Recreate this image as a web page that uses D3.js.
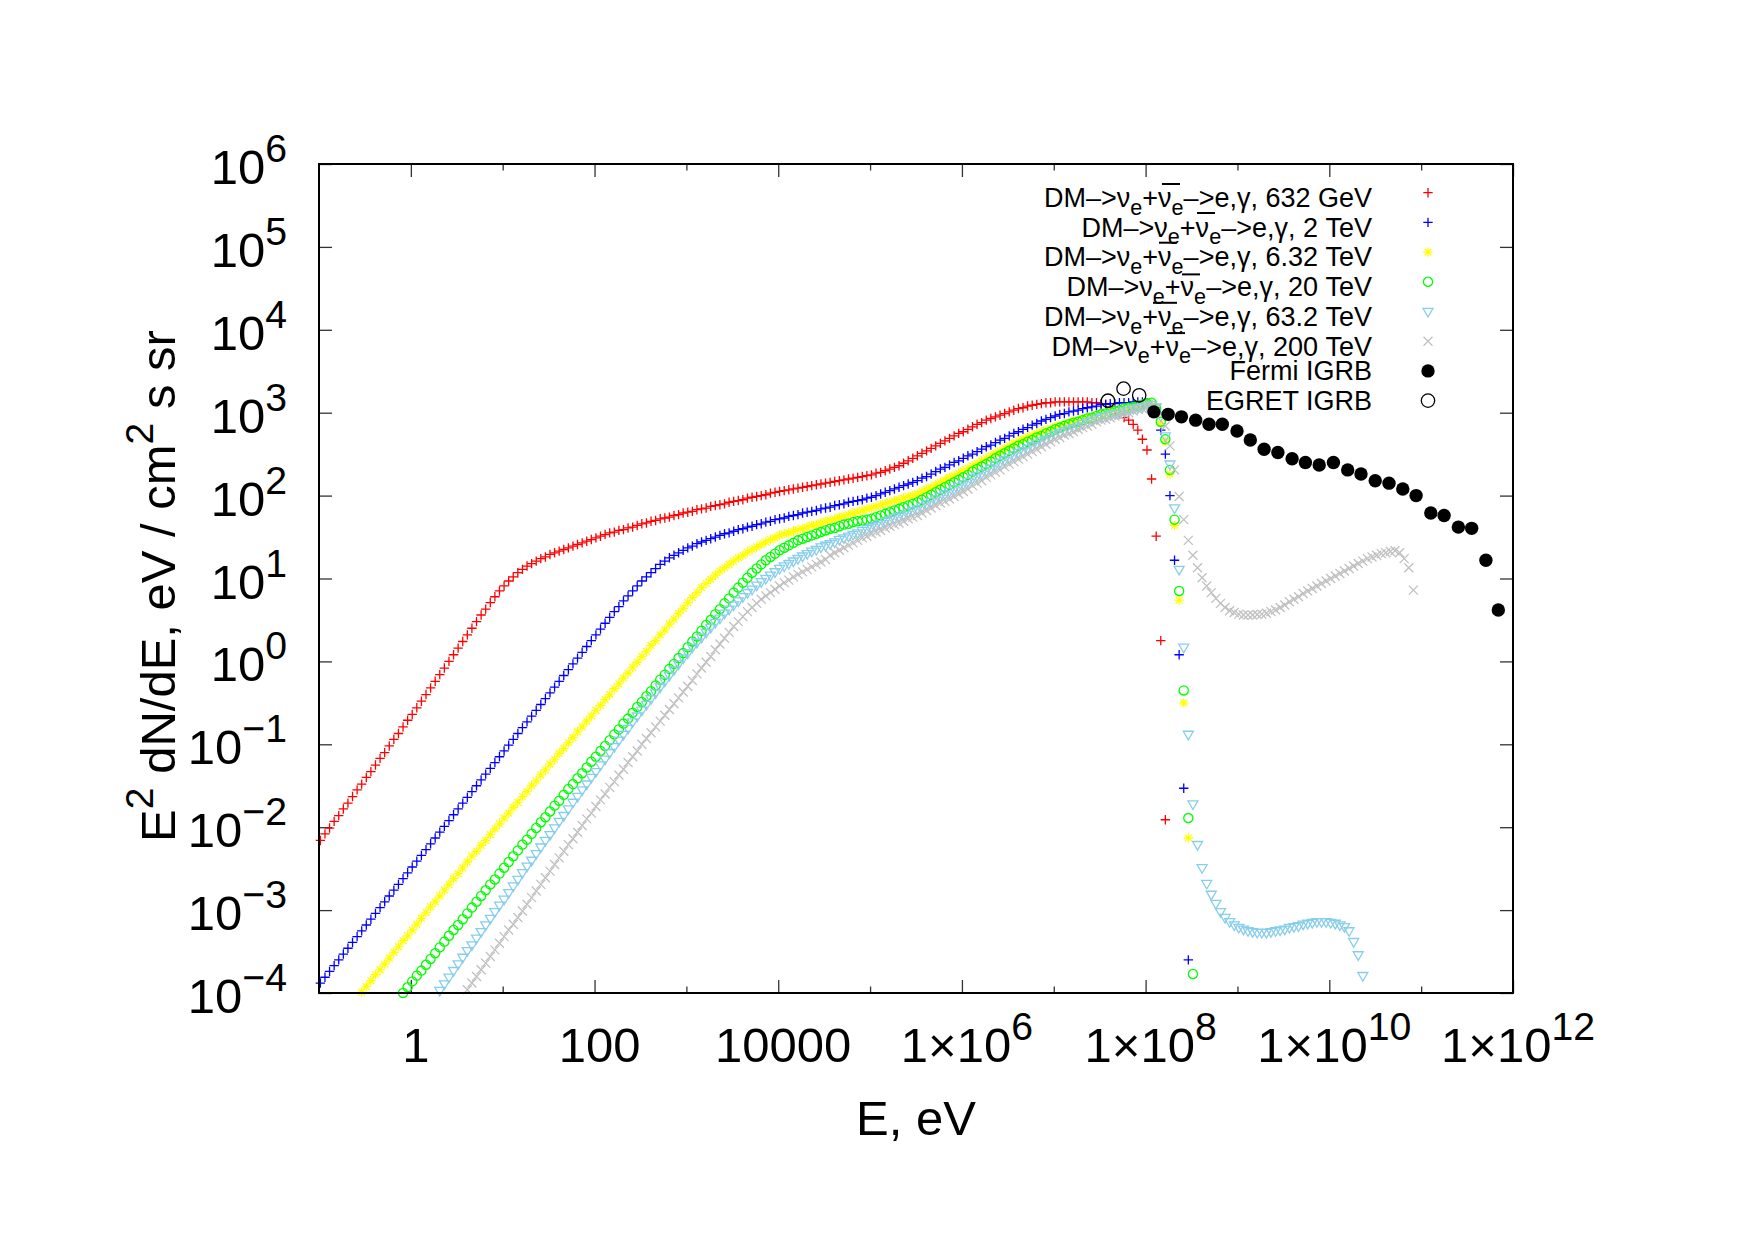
<!DOCTYPE html>
<html>
<head>
<meta charset="utf-8">
<script src="https://cdn.jsdelivr.net/npm/d3@7"></script>
<style>
  body { margin: 0; background: #fff; }
  svg { display: block; }
  text { font-family: "Liberation Sans", Arial, Helvetica, sans-serif; fill: #000; white-space: pre; }
</style>
</head>
<body>
<svg width="1755" height="1240"></svg>
<script>
// energy grid of the spectra, log10(E / eV)
const energyExp = [
  -0.985,-0.935,-0.885,-0.835,-0.785,-0.735,-0.685,-0.635,-0.585,-0.535,-0.485,-0.435,-0.385,-0.335,-0.285,-0.235,-0.185,-0.135,-0.085,-0.035,
  0.015,0.065,0.115,0.165,0.215,0.265,0.315,0.365,0.415,0.465,0.515,0.565,0.615,0.665,0.715,0.765,0.815,0.865,0.915,0.965,
  1.015,1.065,1.115,1.165,1.215,1.265,1.315,1.365,1.415,1.465,1.515,1.565,1.615,1.665,1.715,1.765,1.815,1.865,1.915,1.965,
  2.015,2.065,2.115,2.165,2.215,2.265,2.315,2.365,2.415,2.465,2.515,2.565,2.615,2.665,2.715,2.765,2.815,2.865,2.915,2.965,
  3.015,3.065,3.115,3.165,3.215,3.265,3.315,3.365,3.415,3.465,3.515,3.565,3.615,3.665,3.715,3.765,3.815,3.865,3.915,3.965,
  4.015,4.065,4.115,4.165,4.215,4.265,4.315,4.365,4.415,4.465,4.515,4.565,4.615,4.665,4.715,4.765,4.815,4.865,4.915,4.965,
  5.015,5.065,5.115,5.165,5.215,5.265,5.315,5.365,5.415,5.465,5.515,5.565,5.615,5.665,5.715,5.765,5.815,5.865,5.915,5.965,
  6.015,6.065,6.115,6.165,6.215,6.265,6.315,6.365,6.415,6.465,6.515,6.565,6.615,6.665,6.715,6.765,6.815,6.865,6.915,6.965,
  7.015,7.065,7.115,7.165,7.215,7.265,7.315,7.365,7.415,7.465,7.515,7.565,7.615,7.665,7.715,7.765,7.815,7.865,7.915,7.965,
  8.015,8.065,8.115,8.165,8.215,8.265,8.315,8.365,8.415,8.465,8.515,8.565,8.615,8.665,8.715,8.765,8.815,8.865,8.915,8.965,
  9.015,9.065,9.115,9.165,9.215,9.265,9.315,9.365,9.415,9.465,9.515,9.565,9.615,9.665,9.715,9.765,9.815,9.865,9.915,9.965,
  10.015,10.065,10.115,10.165,10.215,10.265,10.315,10.365,10.415,10.465,10.515,10.565,10.615,10.665,10.715,10.765,10.815,10.865,10.915,10.965
]

// log10(E^2 dN/dE) for each DM mass, starting at grid index *From
const dm632From = 0
const dm632 = [
  -2.16,-2.08,-2.01,-1.93,-1.86,-1.78,-1.71,-1.63,-1.55,-1.48,
  -1.40,-1.33,-1.25,-1.17,-1.10,-1.02,-0.94,-0.87,-0.79,-0.71,
  -0.64,-0.56,-0.48,-0.40,-0.32,-0.24,-0.16,-0.08,0.00,0.08,
  0.16,0.24,0.32,0.40,0.48,0.56,0.63,0.71,0.78,0.85,
  0.91,0.97,1.02,1.07,1.11,1.15,1.18,1.21,1.24,1.26,
  1.29,1.31,1.33,1.35,1.37,1.39,1.41,1.43,1.45,1.47,
  1.49,1.51,1.53,1.55,1.56,1.58,1.59,1.61,1.62,1.64,
  1.66,1.67,1.69,1.70,1.72,1.73,1.74,1.76,1.77,1.79,
  1.80,1.81,1.83,1.84,1.85,1.87,1.88,1.89,1.90,1.92,
  1.93,1.94,1.95,1.97,1.98,1.99,2.00,2.01,2.03,2.04,
  2.05,2.06,2.07,2.08,2.09,2.10,2.11,2.12,2.13,2.14,
  2.15,2.16,2.17,2.18,2.19,2.20,2.21,2.22,2.23,2.24,
  2.25,2.27,2.28,2.30,2.32,2.34,2.36,2.39,2.42,2.45,
  2.48,2.51,2.54,2.57,2.60,2.63,2.66,2.69,2.72,2.75,
  2.77,2.80,2.83,2.86,2.88,2.91,2.93,2.95,2.97,2.99,
  3.01,3.03,3.05,3.06,3.08,3.09,3.10,3.11,3.12,3.12,
  3.13,3.13,3.13,3.13,3.13,3.13,3.13,3.13,3.12,3.12,
  3.11,3.10,3.07,3.03,2.98,2.94,2.91,2.86,2.79,2.68,
  2.55,2.20,1.51,0.25,-1.91
]

const dm2From = 0
const dm2 = [
  -3.88,-3.81,-3.74,-3.67,-3.60,-3.53,-3.46,-3.39,-3.32,-3.25,
  -3.18,-3.11,-3.04,-2.97,-2.90,-2.83,-2.76,-2.69,-2.62,-2.55,
  -2.48,-2.41,-2.34,-2.27,-2.20,-2.13,-2.06,-1.99,-1.92,-1.85,
  -1.78,-1.71,-1.64,-1.57,-1.50,-1.43,-1.36,-1.29,-1.22,-1.15,
  -1.08,-1.01,-0.94,-0.87,-0.80,-0.73,-0.66,-0.59,-0.52,-0.45,
  -0.38,-0.31,-0.24,-0.17,-0.10,-0.03,0.04,0.11,0.18,0.25,
  0.32,0.39,0.46,0.53,0.60,0.66,0.73,0.79,0.85,0.91,
  0.97,1.02,1.07,1.12,1.17,1.21,1.25,1.28,1.31,1.34,
  1.37,1.39,1.42,1.44,1.46,1.48,1.50,1.52,1.54,1.55,
  1.57,1.59,1.60,1.62,1.63,1.65,1.66,1.68,1.69,1.71,
  1.72,1.73,1.75,1.76,1.77,1.79,1.80,1.81,1.82,1.84,
  1.85,1.86,1.88,1.89,1.90,1.92,1.93,1.94,1.95,1.97,
  1.98,2.00,2.02,2.04,2.06,2.08,2.10,2.12,2.14,2.16,
  2.18,2.21,2.23,2.26,2.29,2.32,2.34,2.37,2.40,2.42,
  2.45,2.48,2.50,2.53,2.56,2.59,2.61,2.64,2.67,2.69,
  2.72,2.75,2.77,2.80,2.82,2.85,2.87,2.90,2.92,2.94,
  2.96,2.98,2.99,3.01,3.02,3.03,3.05,3.06,3.07,3.08,
  3.10,3.10,3.11,3.11,3.12,3.12,3.12,3.13,3.13,3.13,
  3.12,3.10,3.02,2.79,2.50,2.00,1.22,0.08,-1.53,-3.60
]

const dm632tFrom = 9
const dm632t = [
  -3.99,
  -3.92,-3.85,-3.78,-3.72,-3.65,-3.58,-3.51,-3.44,-3.37,-3.31,
  -3.24,-3.17,-3.10,-3.03,-2.96,-2.90,-2.83,-2.76,-2.69,-2.62,
  -2.56,-2.49,-2.42,-2.35,-2.29,-2.22,-2.16,-2.09,-2.02,-1.96,
  -1.89,-1.83,-1.76,-1.70,-1.63,-1.57,-1.50,-1.44,-1.37,-1.31,
  -1.24,-1.18,-1.11,-1.05,-0.98,-0.92,-0.85,-0.79,-0.72,-0.66,
  -0.59,-0.53,-0.46,-0.40,-0.33,-0.27,-0.20,-0.14,-0.07,-0.01,
  0.06,0.12,0.19,0.25,0.32,0.38,0.45,0.51,0.58,0.64,
  0.71,0.77,0.83,0.89,0.94,0.99,1.04,1.09,1.13,1.17,
  1.21,1.25,1.28,1.32,1.35,1.38,1.41,1.44,1.47,1.49,
  1.52,1.54,1.55,1.57,1.59,1.60,1.62,1.64,1.65,1.67,
  1.69,1.70,1.72,1.74,1.75,1.77,1.79,1.80,1.82,1.84,
  1.85,1.87,1.89,1.90,1.92,1.94,1.95,1.97,1.99,2.00,
  2.02,2.05,2.08,2.10,2.13,2.16,2.19,2.22,2.24,2.27,
  2.30,2.33,2.36,2.39,2.42,2.45,2.48,2.51,2.54,2.57,
  2.60,2.63,2.66,2.68,2.71,2.73,2.75,2.77,2.79,2.81,
  2.83,2.85,2.86,2.88,2.90,2.91,2.93,2.94,2.96,2.97,
  2.99,3.00,3.02,3.03,3.04,3.05,3.06,3.07,3.08,3.10,
  3.11,3.11,3.04,2.87,2.65,2.26,1.64,0.74,-0.50,-2.13
]

const dm20From = 18
const dm20 = [
  -4.00,-3.93,
  -3.86,-3.79,-3.73,-3.66,-3.59,-3.52,-3.45,-3.38,-3.31,-3.24,
  -3.18,-3.11,-3.04,-2.97,-2.90,-2.83,-2.76,-2.69,-2.63,-2.56,
  -2.49,-2.42,-2.35,-2.28,-2.21,-2.15,-2.08,-2.01,-1.94,-1.88,
  -1.81,-1.74,-1.68,-1.61,-1.54,-1.48,-1.41,-1.35,-1.28,-1.21,
  -1.15,-1.08,-1.02,-0.95,-0.88,-0.82,-0.75,-0.69,-0.62,-0.55,
  -0.49,-0.42,-0.36,-0.29,-0.22,-0.16,-0.09,-0.03,0.04,0.10,
  0.17,0.24,0.30,0.37,0.44,0.50,0.57,0.63,0.70,0.76,
  0.83,0.89,0.95,1.01,1.07,1.12,1.17,1.22,1.26,1.30,
  1.34,1.37,1.40,1.43,1.46,1.48,1.50,1.52,1.54,1.56,
  1.58,1.60,1.61,1.63,1.65,1.66,1.68,1.69,1.70,1.71,
  1.72,1.74,1.76,1.78,1.80,1.82,1.84,1.86,1.88,1.90,
  1.92,1.95,1.98,2.01,2.04,2.07,2.10,2.13,2.16,2.19,
  2.22,2.25,2.29,2.32,2.35,2.38,2.41,2.45,2.48,2.51,
  2.54,2.57,2.60,2.62,2.65,2.67,2.70,2.72,2.75,2.77,
  2.80,2.82,2.84,2.86,2.88,2.89,2.91,2.93,2.94,2.96,
  2.98,2.99,3.01,3.02,3.03,3.05,3.06,3.07,3.08,3.10,
  3.11,3.12,3.05,2.89,2.68,2.31,1.71,0.85,-0.35,-1.89,
  -3.77
]

const dm63From = 26
const dm63 = [
  -3.97,-3.89,-3.81,-3.73,
  -3.65,-3.57,-3.49,-3.42,-3.34,-3.26,-3.18,-3.10,-3.02,-2.94,
  -2.87,-2.79,-2.71,-2.63,-2.55,-2.47,-2.40,-2.32,-2.24,-2.16,
  -2.09,-2.01,-1.93,-1.86,-1.78,-1.70,-1.63,-1.55,-1.48,-1.40,
  -1.33,-1.25,-1.18,-1.10,-1.03,-0.95,-0.88,-0.81,-0.73,-0.66,
  -0.59,-0.52,-0.45,-0.38,-0.31,-0.24,-0.17,-0.10,-0.03,0.04,
  0.10,0.17,0.23,0.29,0.35,0.41,0.47,0.52,0.58,0.63,
  0.68,0.73,0.78,0.83,0.87,0.92,0.96,1.00,1.04,1.08,
  1.12,1.15,1.18,1.21,1.24,1.27,1.30,1.33,1.35,1.38,
  1.40,1.42,1.44,1.47,1.49,1.51,1.53,1.55,1.58,1.60,
  1.62,1.64,1.66,1.69,1.71,1.73,1.75,1.77,1.80,1.82,
  1.84,1.87,1.90,1.93,1.96,1.99,2.02,2.05,2.08,2.11,
  2.14,2.17,2.21,2.24,2.27,2.30,2.33,2.37,2.40,2.43,
  2.46,2.49,2.52,2.54,2.57,2.60,2.63,2.66,2.68,2.71,
  2.74,2.76,2.78,2.80,2.82,2.84,2.87,2.89,2.91,2.93,
  2.95,2.96,2.98,2.99,3.00,3.02,3.03,3.05,3.06,3.07,
  3.09,3.10,3.07,2.96,2.72,2.38,1.85,1.11,0.17,-0.88,
  -1.72,-2.21,-2.49,-2.68,-2.81,-2.92,-3.02,-3.09,-3.14,-3.18,
  -3.21,-3.23,-3.25,-3.26,-3.27,-3.27,-3.27,-3.26,-3.25,-3.24,
  -3.23,-3.21,-3.20,-3.19,-3.17,-3.16,-3.15,-3.14,-3.14,-3.14,
  -3.15,-3.16,-3.18,-3.20,-3.25,-3.38,-3.54,-3.79
]

const dm200From = 32
const dm200 = [
  -3.96,-3.88,-3.80,-3.72,-3.64,-3.56,-3.48,-3.40,
  -3.32,-3.24,-3.17,-3.09,-3.01,-2.93,-2.85,-2.77,-2.69,-2.61,
  -2.53,-2.45,-2.37,-2.29,-2.21,-2.14,-2.06,-1.98,-1.90,-1.83,
  -1.75,-1.67,-1.60,-1.52,-1.45,-1.37,-1.30,-1.22,-1.15,-1.08,
  -1.00,-0.93,-0.86,-0.79,-0.72,-0.65,-0.58,-0.51,-0.44,-0.37,
  -0.30,-0.23,-0.15,-0.08,-0.01,0.06,0.14,0.21,0.28,0.35,
  0.42,0.48,0.54,0.60,0.65,0.70,0.75,0.79,0.83,0.87,
  0.91,0.95,0.98,1.02,1.05,1.08,1.11,1.14,1.17,1.20,
  1.23,1.28,1.31,1.34,1.37,1.40,1.43,1.46,1.49,1.51,
  1.54,1.56,1.58,1.61,1.63,1.65,1.67,1.69,1.72,1.74,
  1.76,1.79,1.82,1.85,1.88,1.91,1.93,1.96,1.99,2.02,
  2.05,2.08,2.12,2.15,2.18,2.22,2.25,2.28,2.31,2.35,
  2.38,2.41,2.44,2.47,2.50,2.53,2.56,2.59,2.62,2.65,
  2.68,2.70,2.73,2.75,2.77,2.80,2.82,2.84,2.86,2.89,
  2.91,2.92,2.94,2.96,2.97,2.99,3.00,3.02,3.04,3.05,
  3.07,3.08,3.06,2.98,2.84,2.60,2.31,1.99,1.71,1.46,
  1.28,1.13,1.01,0.91,0.83,0.76,0.70,0.65,0.61,0.59,
  0.57,0.56,0.56,0.56,0.565,0.57,0.58,0.60,0.62,0.65,
  0.68,0.72,0.75,0.78,0.82,0.85,0.88,0.91,0.94,0.97,
  1.00,1.03,1.06,1.09,1.12,1.15,1.18,1.21,1.24,1.26,
  1.28,1.30,1.31,1.325,1.335,1.31,1.24,1.13,0.86
]

// Fermi and EGRET isotropic gamma-ray background, log10 values
const fermiExp = [8.09,8.245,8.39,8.545,8.69,8.835,8.995,9.14,9.29,9.44,9.595,9.74,9.89,10.045,10.2,10.345,10.5,10.65,10.8,10.945,11.105,11.25,11.405,11.55,11.705,11.84]
const fermiVal = [3.01,2.98,2.95,2.91,2.86,2.86,2.78,2.67,2.56,2.52,2.445,2.40,2.37,2.40,2.31,2.26,2.18,2.15,2.08,2.00,1.79,1.76,1.62,1.605,1.22,0.62]
const egretExp = [7.59,7.76,7.93]
const egretVal = [3.145,3.29,3.21]

// axis ticks and labels
const xMajor = [1e0, 1e2, 1e4, 1e6, 1e8, 1e10, 1e12]
const xMinor = [1e1, 1e3, 1e5, 1e7, 1e9, 1e11]
const xTickBase = ['1', '100', '10000', '1×10', '1×10', '1×10', '1×10']
const xTickSup = [null, null, null, '6', '8', '10', '12']
const yTicks = [1e-4, 1e-3, 1e-2, 1e-1, 1e0, 1e1, 1e2, 1e3, 1e4, 1e5, 1e6]
const yTickSup = ['−4', '−3', '−2', '−1', '0', '1', '2', '3', '4', '5', '6']

const legendMass = ['632 GeV', '2 TeV', '6.32 TeV', '20 TeV', '63.2 TeV', '200 TeV']

const svg = d3.select('svg')
const width = +svg.attr('width')
const height = +svg.attr('height')
const margin = { top: 164, right: 242, bottom: 247, left: 319 }
const innerWidth = width - margin.left - margin.right
const innerHeight = height - margin.top - margin.bottom

svg.append('rect').attr('width', width).attr('height', height).attr('fill', '#fff')

const xScale = d3.scaleLog().domain([1e-1, 1e12]).range([0, innerWidth])
const yScale = d3.scaleLog().domain([1e-4, 1e6]).range([innerHeight, 0])

const g = svg.append('g')
  .attr('transform', `translate(${margin.left},${margin.top})`)

const tidy = sel => {
  sel.select('.domain').remove()
  sel.selectAll('.tick text').remove()
  sel.selectAll('.tick line').attr('stroke', '#333').attr('stroke-width', 1.3)
}

g.append('g').attr('transform', `translate(0,${innerHeight})`)
  .call(d3.axisBottom(xScale).tickValues(xMajor).tickSize(-13)).call(tidy)
g.append('g').attr('transform', `translate(0,${innerHeight})`)
  .call(d3.axisBottom(xScale).tickValues(xMinor).tickSize(-6.5)).call(tidy)
g.append('g')
  .call(d3.axisTop(xScale).tickValues(xMajor).tickSize(-13)).call(tidy)
g.append('g')
  .call(d3.axisTop(xScale).tickValues(xMinor).tickSize(-6.5)).call(tidy)
g.append('g')
  .call(d3.axisLeft(yScale).tickValues(yTicks).tickSize(-13)).call(tidy)
g.append('g').attr('transform', `translate(${innerWidth},0)`)
  .call(d3.axisRight(yScale).tickValues(yTicks).tickSize(-13)).call(tidy)

// text made of pieces (super/subscripts), each piece its own <text>
const richText = (parent, x, y, parts, anchor, size) => {
  const grp = parent.append('g').attr('transform', `translate(${x},${y})`)
  const nodes = parts.map(p => grp.append('text')
    .attr('font-size', p.size || size)
    .attr('y', p.dy || 0)
    .text(p.t))
  const widths = nodes.map(n => n.node().getComputedTextLength())
  const total = d3.sum(widths)
  let cx = anchor === 'end' ? -total : anchor === 'middle' ? -total / 2 : 0
  nodes.forEach((n, k) => { n.attr('x', cx); cx += widths[k] })
  return grp
}

const tickFont = 49
const supParts = (base, sup) => sup === null
  ? [{ t: base }]
  : [{ t: base }, { t: sup, size: tickFont * 0.8, dy: -22 }]

xMajor.forEach((d, i) => {
  richText(g, xScale(d) + 5, innerHeight + 69, supParts(xTickBase[i], xTickSup[i]), 'middle', tickFont)
})
yTicks.forEach((d, i) => {
  richText(g, -32, yScale(d) + 20, supParts('10', yTickSup[i]), 'end', tickFont)
})

// axis titles
richText(svg, margin.left + innerWidth / 2, 1135, [{ t: 'E, eV' }], 'middle', 49)

richText(svg, 0, 0, [
  { t: 'E' }, { t: '2', size: 39, dy: -22 }, { t: ' dN/dE, eV / cm' },
  { t: '2', size: 39, dy: -22 }, { t: ' s sr' }
], 'middle', 49).attr('transform', 'translate(175,586) rotate(-90)')

// point symbols
const symbolPath = (type, s) => {
  if (type === 'plus') return `M${-s},0H${s}M0,${-s}V${s}`
  if (type === 'cross') return `M${-s},${-s}L${s},${s}M${-s},${s}L${s},${-s}`
  if (type === 'star') {
    const c = s * 0.72
    return `M${-s},0H${s}M0,${-s}V${s}M${-c},${-c}L${c},${c}M${-c},${c}L${c},${-c}`
  }
  if (type === 'tri') return `M${-s},${-s * 0.62}L${s},${-s * 0.62}L0,${s * 1.1}Z`
  return `M${-s},0A${s},${s} 0 1,0 ${s},0A${s},${s} 0 1,0 ${-s},0Z`
}

const series = [
  { from: dm632From, vals: dm632, color: '#ff0000', type: 'plus', size: 4.7 },
  { from: dm2From, vals: dm2, color: '#0000ff', type: 'plus', size: 4.7 },
  { from: dm632tFrom, vals: dm632t, color: '#ffff00', type: 'star', size: 4.7 },
  { from: dm20From, vals: dm20, color: '#00ff00', type: 'circle', size: 4.6 },
  { from: dm63From, vals: dm63, color: '#87ceeb', type: 'tri', size: 5 },
  { from: dm200From, vals: dm200, color: '#c0c0c0', type: 'cross', size: 4.5 }
]

const inRange = p => p.e >= 1e-1 && p.e <= 1e12 && p.f >= 1e-4 && p.f <= 1e6

series.forEach(s => {
  const pts = s.vals.map((v, k) => ({ e: 10 ** energyExp[s.from + k], f: 10 ** v })).filter(inRange)
  g.append('g')
    .attr('fill', 'none')
    .attr('stroke', s.color)
    .attr('stroke-width', 1.3)
    .selectAll('path').data(pts).join('path')
    .attr('transform', d => `translate(${xScale(d.e)},${yScale(d.f)})`)
    .attr('d', symbolPath(s.type, s.size))
})

const fermi = fermiExp.map((e, k) => ({ e: 10 ** e, f: 10 ** fermiVal[k] }))
g.append('g').selectAll('circle').data(fermi).join('circle')
  .attr('cx', d => xScale(d.e))
  .attr('cy', d => yScale(d.f))
  .attr('r', 6.7)
  .attr('fill', '#000')

const egret = egretExp.map((e, k) => ({ e: 10 ** e, f: 10 ** egretVal[k] }))
g.append('g').selectAll('circle').data(egret).join('circle')
  .attr('cx', d => xScale(d.e))
  .attr('cy', d => yScale(d.f))
  .attr('r', 6.7)
  .attr('fill', 'none')
  .attr('stroke', '#000')
  .attr('stroke-width', 1.3)

// legend (top right, inside the frame)
const legendRight = 1372
const legendSample = 1428
const rowY = k => 192.7 + 29.7 * k
const legendFont = 27
const legend = svg.append('g')

legendMass.forEach((m, k) => {
  const sub = { size: legendFont * 0.8, dy: 7.7 }
  richText(legend, legendRight, rowY(k) + 14.3, [
    { t: 'DM–>ν' }, { t: 'e', ...sub }, { t: '+ν' }, { t: 'e', ...sub }, { t: `–>e,γ, ${m}` }
  ], 'end', legendFont)
  const s = series[k]
  legend.append('path')
    .attr('transform', `translate(${legendSample},${rowY(k)})`)
    .attr('d', symbolPath(s.type, s.size))
    .attr('fill', 'none')
    .attr('stroke', s.color)
    .attr('stroke-width', 1.3)
})

;['Fermi IGRB', 'EGRET IGRB'].forEach((name, j) => {
  richText(legend, legendRight, rowY(6 + j) + 9, [{ t: name }], 'end', legendFont)
})
legend.append('circle').attr('cx', legendSample).attr('cy', rowY(6)).attr('r', 6.7).attr('fill', '#000')
legend.append('circle').attr('cx', legendSample).attr('cy', rowY(7)).attr('r', 6.7)
  .attr('fill', 'none').attr('stroke', '#000').attr('stroke-width', 1.3)

// stray bar strokes of the enhanced-text labels, relative to the text end and baseline
const bars = [
  [0, -210, -192, -23], [0, -175, -157, 6], [1, -213, -195, 6],
  [2, -190, -172, 8], [3, -219, -195, 6.7], [4, -205, -187, 7.3]
]
legend.selectAll('line.bar').data(bars).join('line')
  .attr('class', 'bar')
  .attr('x1', d => legendRight + d[1])
  .attr('x2', d => legendRight + d[2])
  .attr('y1', d => rowY(d[0]) + 14.3 + d[3])
  .attr('y2', d => rowY(d[0]) + 14.3 + d[3])
  .attr('stroke', '#000')
  .attr('stroke-width', 2)

// frame
g.append('rect')
  .attr('width', innerWidth)
  .attr('height', innerHeight)
  .attr('fill', 'none')
  .attr('stroke', '#000')
  .attr('stroke-width', 2)
</script>
</body>
</html>
